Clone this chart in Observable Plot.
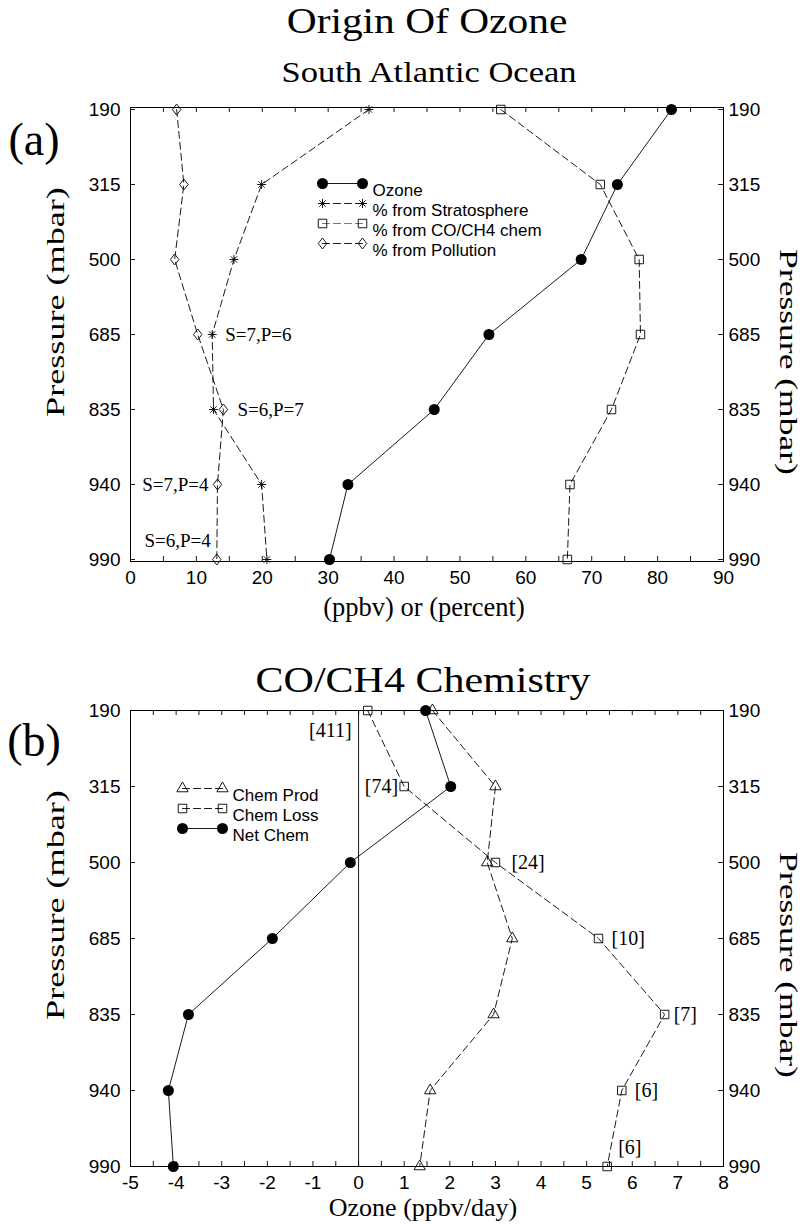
<!DOCTYPE html>
<html>
<head>
<meta charset="utf-8">
<script src="https://cdn.jsdelivr.net/npm/d3@7"></script>
<script src="https://cdn.jsdelivr.net/npm/@observablehq/plot@0.6"></script>
<style>
  html, body { margin: 0; padding: 0; background: #fff; }
  #page { position: relative; width: 804px; height: 1224px; background: #fff; overflow: hidden; color: #000;
          font-family: "Liberation Serif", "Times New Roman", serif; }
  .t { position: absolute; white-space: nowrap; line-height: 1; transform-origin: center; }
  .panel { position: absolute; left: 0; }
</style>
</head>
<body>
<div id="page">
  <div class="t" style="left:427px; top:3px; font-size:36px; transform: translate(-50%,0) scaleX(1.15);">Origin Of Ozone</div>
  <div class="t" style="left:429px; top:57px; font-size:30px; transform: translate(-50%,0) scaleX(1.15);">South Atlantic Ocean</div>
  <div class="t" style="left:34px; top:117px; font-size:46px;transform: translate(-50%,0);">(a)</div>
  <div class="t" style="left:56px; top:302px; font-size:26px; transform: translate(-50%,-50%) rotate(-90deg) scaleX(1.39);">Pressure (mbar)</div>
  <div class="t" style="left:788px; top:362px; font-size:25px; transform: translate(-50%,-50%) rotate(90deg) scaleX(1.42);">Pressure (mbar)</div>
  <div class="t" style="left:424px; top:594px; font-size:26.5px; transform: translate(-50%,0);">(ppbv) or (percent)</div>

  <div class="t" style="left:423px; top:663px; font-size:35px; transform: translate(-50%,0) scaleX(1.2);">CO/CH4 Chemistry</div>
  <div class="t" style="left:34px; top:718px; font-size:46px;transform: translate(-50%,0);">(b)</div>
  <div class="t" style="left:56px; top:905px; font-size:26px; transform: translate(-50%,-50%) rotate(-90deg) scaleX(1.39);">Pressure (mbar)</div>
  <div class="t" style="left:788px; top:965px; font-size:25px; transform: translate(-50%,-50%) rotate(90deg) scaleX(1.42);">Pressure (mbar)</div>
  <div class="t" style="left:423px; top:1195px; font-size:26px; transform: translate(-50%,0);">Ozone (ppbv/day)</div>

  <div class="panel" id="panelA" style="top:95px;"></div>
  <div class="panel" id="panelB" style="top:695px;"></div>
</div>
<script>
// Pressure levels (mbar), evenly spaced on the vertical axis
const levels = ["190", "315", "500", "685", "835", "940", "990"];

// (a) Origin of ozone: ozone in ppbv, sources in percent
const ozone            = [82.1, 73.9, 68.4, 54.4, 46.1, 33.0, 30.2];
const fromStratosphere = [36.2, 19.9, 15.7, 12.4, 12.6, 19.9, 20.7];
const fromChem         = [56.2, 71.3, 77.2, 77.4, 73.0, 66.7, 66.3];
const fromPollution    = [7.0, 8.1, 6.7, 10.2, 14.1, 13.2, 13.1];

// sample counts (S = stratospheric, P = pollution) noted beside the low levels
const noteLevels = ["685", "835", "940", "990"];
const noteTexts  = ["S=7,P=6", "S=6,P=7", "S=7,P=4", "S=6,P=4"];

// (b) CO/CH4 chemistry in ppbv/day
const chemProd = [1.62, 3.0, 2.82, 3.37, 2.96, 1.57, 1.34];
const chemLoss = [0.2, 1.0, 3.0, 5.26, 6.71, 5.77, 5.45];
const netChem  = [1.47, 2.02, -0.18, -1.89, -3.73, -4.17, -4.06];
const lossLabels = ["[411]", "[74]", "[24]", "[10]", "[7]", "[6]", "[6]"];

// axis tick values
const xTicksA = d3.range(0, 91, 10);
const xMinorA = d3.range(0, 91, 5);
const xTicksB = d3.range(-5, 9, 1);
const xMinorB = d3.range(-5, 8.01, 0.5);

const sans = '"Liberation Sans", Arial, Helvetica, sans-serif';
const serif = '"Liberation Serif", "Times New Roman", serif';
const lw = 0.9;
const dash = "7,4";

// slightly tall open diamond
const diamond = {
  draw(ctx, size) {
    const s = Math.sqrt(size), h = s * 0.62, w = s * 0.48;
    ctx.moveTo(0, -h); ctx.lineTo(w, 0); ctx.lineTo(0, h); ctx.lineTo(-w, 0); ctx.closePath();
  }
};

// eight-spoke star drawn as a plus over a cross
function starDots(data, o) {
  return [
    Plot.dot(data, {...o, symbol: "plus", r: 3, stroke: "black", strokeWidth: lw}),
    Plot.dot(data, {...o, symbol: "times", r: 3, stroke: "black", strokeWidth: lw})
  ];
}

function frameTicks(xMinor, plotW, plotH) {
  return [
    Plot.tickX(xMinor, {x: d => d, insetTop: plotH - 5, stroke: "black", strokeWidth: lw}),
    Plot.tickX(xMinor, {x: d => d, insetBottom: plotH - 5, stroke: "black", strokeWidth: lw}),
    Plot.tickY(levels, {y: d => d, insetRight: plotW - 5, stroke: "black", strokeWidth: lw}),
    Plot.tickY(levels, {y: d => d, insetLeft: plotW - 5, stroke: "black", strokeWidth: lw})
  ];
}

function legendRow(label, dy, x0, line, marker) {
  const at = {frameAnchor: "top-left", dy};
  const marks = [
    Plot.vector([0], {...at, dx: x0, length: 40, rotate: 90, anchor: "start", r: 0, stroke: "black", strokeWidth: lw, ...line})
  ];
  for (const dx of [x0, x0 + 40]) marks.push(...marker({...at, dx}));
  marks.push(Plot.text([label], {...at, dx: x0 + 50, text: d => d, textAnchor: "start", fontFamily: sans, fontSize: 17}));
  return marks;
}

const W = 804, mL = 130, mR = 81;
const plotW = W - mL - mR;

// ---------- panel (a) ----------
const rowsA = levels.map((p, i) => ({p, ozone: ozone[i], strat: fromStratosphere[i], chem: fromChem[i], poll: fromPollution[i]}));
const seriesAt = (arr, p) => arr[levels.indexOf(p)];
const notes = noteLevels.map((p, i) => ({
  p, text: noteTexts[i],
  x: i === 0 ? seriesAt(fromStratosphere, p) : seriesAt(fromPollution, p)
}));
const noteLayout = [
  {dx: 13, dy: 0, textAnchor: "start"},
  {dx: 14, dy: 0, textAnchor: "start"},
  {dx: -9, dy: 0, textAnchor: "end"},
  {dx: -6, dy: -19, textAnchor: "end"}
];

const hA = 500, mTA = 12, mBA = 34;
const circ = o => [Plot.dot([0], {...o, r: 5.5, fill: "black"})];
const sq = o => [Plot.dot([0], {...o, symbol: "square", r: 4.8, stroke: "black", fill: "none", strokeWidth: lw})];
const dia = o => [Plot.dot([0], {...o, symbol: diamond, r: 5, stroke: "black", fill: "none", strokeWidth: lw})];
const tri = o => [Plot.dot([0], {...o, symbol: "triangle", r: 4.2, stroke: "black", fill: "none", strokeWidth: lw})];
const star = o => starDots([0], o);

const panelA = Plot.plot({
  width: W, height: hA,
  marginLeft: mL, marginRight: mR, marginTop: mTA, marginBottom: mBA,
  style: {background: "transparent", color: "black", fontFamily: sans, fontSize: "19px", overflow: "visible"},
  x: {domain: [0, 90]},
  y: {type: "point", domain: levels, padding: 0},
  marks: [
    Plot.frame({stroke: "black", strokeWidth: 1}),
    ...frameTicks(xMinorA, plotW, hA - mTA - mBA),
    Plot.axisX({anchor: "bottom", ticks: xTicksA, tickSize: 0, tickPadding: 9, label: null, tickFormat: d => String(d)}),
    Plot.axisY({anchor: "left", tickSize: 0, tickPadding: 10, label: null}),
    Plot.axisY({anchor: "right", tickSize: 0, tickPadding: 5, label: null}),

    Plot.line(rowsA, {x: "poll", y: "p", stroke: "black", strokeWidth: lw, strokeDasharray: dash}),
    Plot.line(rowsA, {x: "strat", y: "p", stroke: "black", strokeWidth: lw, strokeDasharray: dash}),
    Plot.line(rowsA, {x: "chem", y: "p", stroke: "black", strokeWidth: lw, strokeDasharray: dash}),
    Plot.line(rowsA, {x: "ozone", y: "p", stroke: "black", strokeWidth: lw}),

    Plot.dot(rowsA, {x: "poll", y: "p", symbol: diamond, r: 5, stroke: "black", fill: "none", strokeWidth: lw}),
    ...starDots(rowsA, {x: "strat", y: "p"}),
    Plot.dot(rowsA, {x: "chem", y: "p", symbol: "square", r: 4.8, stroke: "black", fill: "none", strokeWidth: lw}),
    Plot.dot(rowsA, {x: "ozone", y: "p", r: 5.5, fill: "black"}),

    ...notes.map((n, i) => Plot.text([n], {x: "x", y: "p", text: "text", fontFamily: serif, fontSize: 19, ...noteLayout[i]})),

    ...legendRow("Ozone", 76, 192, {}, circ),
    ...legendRow("% from Stratosphere", 96, 192, {strokeDasharray: dash}, star),
    ...legendRow("% from CO/CH4 chem", 116, 192, {strokeDasharray: dash, strokeOpacity: 0.6}, sq),
    ...legendRow("% from Pollution", 136, 192, {strokeDasharray: dash}, dia)
  ]
});
document.getElementById("panelA").append(panelA);

// ---------- panel (b) ----------
const rowsB = levels.map((p, i) => ({p, prod: chemProd[i], loss: chemLoss[i], net: netChem[i], label: lossLabels[i]}));
const lossLayout = [
  {dx: -16, dy: 20, textAnchor: "end"},
  {dx: -6, dy: 0, textAnchor: "end"},
  {dx: 16, dy: 0, textAnchor: "start"},
  {dx: 13, dy: 0, textAnchor: "start"},
  {dx: 9, dy: 0, textAnchor: "start"},
  {dx: 13, dy: 0, textAnchor: "start"},
  {dx: 11, dy: -19, textAnchor: "start"}
];

const hB = 505, mTB = 15, mBB = 34;
const panelB = Plot.plot({
  width: W, height: hB,
  marginLeft: mL, marginRight: mR, marginTop: mTB, marginBottom: mBB,
  style: {background: "transparent", color: "black", fontFamily: sans, fontSize: "19px", overflow: "visible"},
  x: {domain: [-5, 8]},
  y: {type: "point", domain: levels, padding: 0},
  marks: [
    Plot.frame({stroke: "black", strokeWidth: 1}),
    ...frameTicks(xMinorB, plotW, hB - mTB - mBB),
    Plot.ruleX([0], {stroke: "black", strokeWidth: lw}),
    Plot.axisX({anchor: "bottom", ticks: xTicksB, tickSize: 0, tickPadding: 9, label: null, tickFormat: d => String(d)}),
    Plot.axisY({anchor: "left", tickSize: 0, tickPadding: 10, label: null}),
    Plot.axisY({anchor: "right", tickSize: 0, tickPadding: 5, label: null}),

    Plot.line(rowsB, {x: "loss", y: "p", stroke: "black", strokeWidth: lw, strokeDasharray: dash}),
    Plot.line(rowsB, {x: "prod", y: "p", stroke: "black", strokeWidth: lw, strokeDasharray: dash}),
    Plot.line(rowsB, {x: "net", y: "p", stroke: "black", strokeWidth: lw}),

    Plot.dot(rowsB, {x: "loss", y: "p", symbol: "square", r: 4.8, stroke: "black", fill: "none", strokeWidth: lw}),
    Plot.dot(rowsB, {x: "prod", y: "p", symbol: "triangle", r: 4.2, stroke: "black", fill: "none", strokeWidth: lw}),
    Plot.dot(rowsB, {x: "net", y: "p", r: 5.5, fill: "black"}),

    ...rowsB.map((d, i) => Plot.text([d], {x: "loss", y: "p", text: "label", fontFamily: serif, fontSize: 20, ...lossLayout[i]})),

    ...legendRow("Chem Prod", 78, 52, {strokeDasharray: dash}, tri),
    ...legendRow("Chem Loss", 98, 52, {strokeDasharray: dash}, sq),
    ...legendRow("Net Chem", 118, 52, {}, circ)
  ]
});
document.getElementById("panelB").append(panelB);
</script>
</body>
</html>
